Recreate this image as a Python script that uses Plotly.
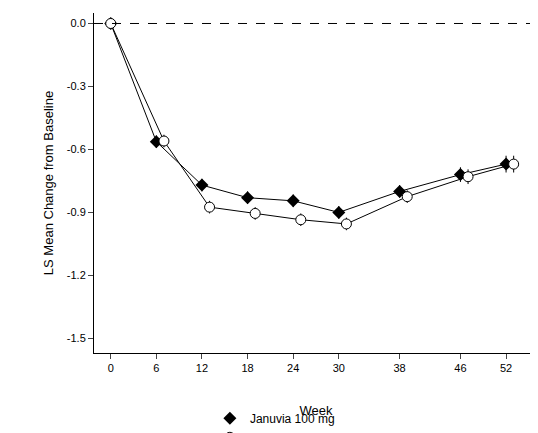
import plotly.graph_objects as go

weeks = [0, 6, 12, 18, 24, 30, 38, 46, 52]
januvia = [0.0, -0.563, -0.77, -0.83, -0.845, -0.90, -0.80, -0.72, -0.67]
januvia_err = [0.0, 0.03, 0.03, 0.03, 0.03, 0.03, 0.03, 0.035, 0.04]
glipizide = [0.0, -0.56, -0.875, -0.905, -0.935, -0.955, -0.825, -0.73, -0.67]
glipizide_err = [0.0, 0.03, 0.03, 0.03, 0.03, 0.03, 0.03, 0.035, 0.04]
glip_x = [w + 1 if w > 0 else w for w in weeks]

fig = go.Figure()
fig.add_trace(go.Scatter(
    x=weeks, y=januvia, mode="lines+markers", showlegend=False,
    line=dict(color="black", width=1),
    marker=dict(symbol="diamond", size=10, color="black"),
    error_y=dict(type="data", array=januvia_err, color="black", thickness=1, width=0)))
fig.add_trace(go.Scatter(
    x=glip_x, y=glipizide, mode="lines+markers", showlegend=False,
    line=dict(color="black", width=1),
    marker=dict(symbol="circle", size=10, color="white", line=dict(color="black", width=1)),
    error_y=dict(type="data", array=glipizide_err, color="black", thickness=1, width=0)))
# legend-only entries (markers without lines)
fig.add_trace(go.Scatter(x=[None], y=[None], mode="markers", name="Januvia 100 mg",
                         marker=dict(symbol="diamond", size=10, color="black")))
fig.add_trace(go.Scatter(x=[None], y=[None], mode="markers", name="Glipizide",
                         marker=dict(symbol="circle", size=10, color="white",
                                     line=dict(color="black", width=1))))

fig.add_hline(y=0, line=dict(color="black", width=1, dash="dash"))

fig.update_layout(
    width=538, height=433, plot_bgcolor="white", paper_bgcolor="white",
    margin=dict(l=86, r=8, t=5, b=88, autoexpand=False),
    font=dict(family="Liberation Sans, Arial", size=11, color="black"),
    showlegend=True,
    legend=dict(orientation="h", x=0.52, xanchor="center", y=-0.22, yanchor="middle",
                font=dict(size=12), entrywidth=185, entrywidthmode="pixels"),
    xaxis=dict(range=[-2.2, 56.2], tickvals=weeks, ticks="outside", ticklen=5,
               showline=True, linecolor="black", showgrid=False, zeroline=False,
               automargin=False, title=dict(text="Week", standoff=32)),
    yaxis=dict(range=[-1.57, 0.05], tickvals=[0, -0.3, -0.6, -0.9, -1.2, -1.5],
               ticktext=["0.0", "-0.3", "-0.6", "-0.9", "-1.2", "-1.5"],
               ticks="outside", ticklen=5, showline=True, linecolor="black",
               showgrid=False, zeroline=False, automargin=False,
               title=dict(text="LS Mean Change from Baseline", standoff=10)),
)
fig.write_html("out.html")
